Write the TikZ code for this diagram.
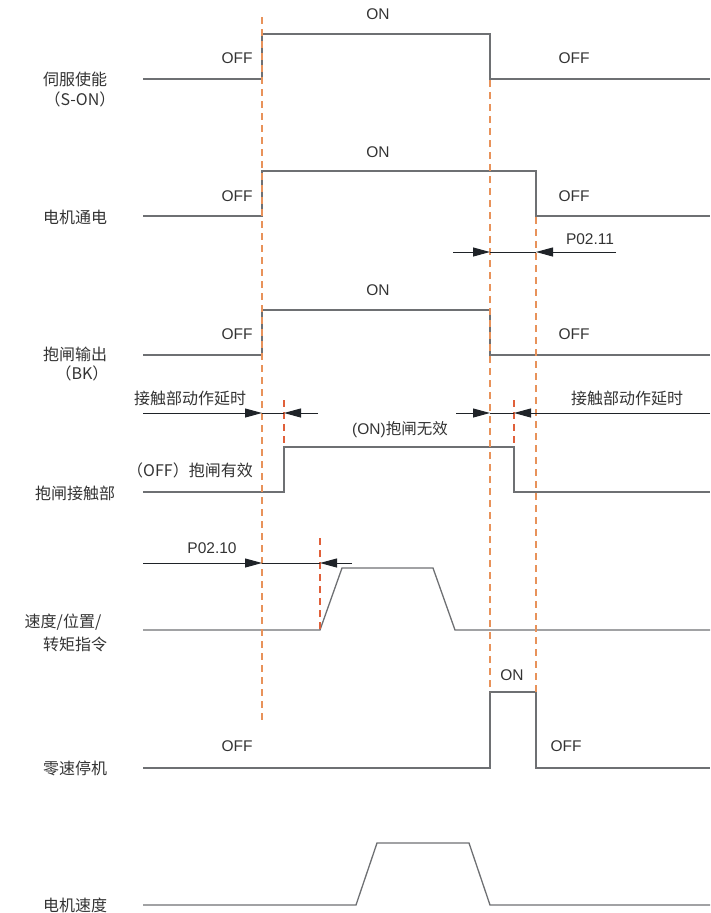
\documentclass[tikz,border=0pt]{standalone}
\usepackage{fontspec}
\setmainfont{Liberation Sans}
\newfontfamily\cjk{Noto Sans CJK SC}
\usetikzlibrary{arrows.meta}
\definecolor{sigc}{HTML}{6E7073}
\definecolor{dashc}{HTML}{E8925A}
\definecolor{redc}{HTML}{E0603A}
\definecolor{txtc}{HTML}{333333}
\definecolor{arrc}{HTML}{1F2328}
\begin{document}
\begin{tikzpicture}[x=1pt,y=-1pt,
  sig/.style={draw=sigc, line width=1.3pt},
  vdash/.style={draw=dashc, line width=1.3pt, dash pattern=on 7pt off 5pt},
  rdash/.style={draw=redc, line width=1.3pt, dash pattern=on 7pt off 5pt},
  arr/.style={draw=arrc, line width=1pt, -{Triangle[length=17pt,width=9pt]}},
  arrline/.style={draw=arrc, line width=1pt},
  lat/.style={text=txtc, font=\fontsize{15.5}{18}\selectfont, inner sep=0pt},
  cj/.style={text=txtc, font=\cjk\fontsize{16}{19}\selectfont, inner sep=0pt}]
\useasboundingbox (0,0) rectangle (710,913);
% row 1
\draw[sig] (143,79) -- (262,79) -- (262,34) -- (490,34) -- (490,79) -- (710,79);
\node[lat] (r1off) at (237,58) {OFF};
\node[lat] (r1on) at (378,14) {ON};
\node[lat] (r1off2) at (574,58) {OFF};
\node[cj] (r1lab) at (75,79) {伺服使能};
\node[cj] (r1sub) at (80,99) {（S-ON）};
% row 2
\draw[sig] (143,216) -- (262,216) -- (262,171) -- (536,171) -- (536,216) -- (710,216);
\node[lat] (r2off) at (237,196) {OFF};
\node[lat] (r2on) at (378,152) {ON};
\node[lat] (r2off2) at (574,196) {OFF};
\node[cj] (r2lab) at (75,217) {电机通电};
% row 3
\draw[sig] (143,355) -- (262,355) -- (262,310) -- (490,310) -- (490,355) -- (710,355);
\node[lat] (r3off) at (237,334) {OFF};
\node[lat] (r3on) at (378,290) {ON};
\node[lat] (r3off2) at (574,334) {OFF};
\node[cj] (r3lab) at (75,354) {抱闸输出};
\node[cj] (r3sub) at (82,373) {（BK）};
% row 4
\draw[sig] (143,492) -- (284,492) -- (284,447) -- (514,447) -- (514,492) -- (710,492);
\node[lat] (r4on) at (400,430) {(ON)\cjk 抱闸无效};
\node[cj] (r4off) at (190,470) {（OFF）抱闸有效};
\node[cj] (r4lab) at (75,493) {抱闸接触部};
% row 5
\draw[sig] (143,630) -- (320,630) -- (342,568) -- (433,568) -- (455,630) -- (710,630);
\node[cj] (r5lab) at (63,622) {速度/位置/};
\node[cj] (r5sub) at (75,644) {转矩指令};
% row 6
\draw[sig] (143,768) -- (490,768) -- (490,692) -- (536,692) -- (536,768) -- (710,768);
\node[lat] (r6on) at (512,675) {ON};
\node[lat] (r6off) at (237,746) {OFF};
\node[lat] (r6off2) at (566,746) {OFF};
\node[cj] (r6lab) at (75,768) {零速停机};
% row 7
\draw[sig] (143,905) -- (356,905) -- (377,843) -- (469,843) -- (490,905) -- (710,905);
\node[cj] (r7lab) at (75,905) {电机速度};
% dashed guides
\draw[vdash] (262,17) -- (262,722);
\draw[vdash] (490,80) -- (490,692);
\draw[vdash] (536,217) -- (536,692);
\draw[rdash] (284,400) -- (284,447);
\draw[rdash] (514,400) -- (514,447);
\draw[rdash] (320,538) -- (320,630);
% P02.11
\coordinate (p11a) at (453,252);
\coordinate (p11b) at (490,252);
\coordinate (p11c) at (536,252);
\coordinate (p11d) at (616,252);
\draw[arr] (p11a) -- (p11b);
\draw[arrline] (p11b) -- (p11c);
\draw[arr] (p11d) -- (p11c);
\node[lat] (p11) at (590,239) {P02.11};
% contact delay arrows
\coordinate (cda) at (143,413);
\coordinate (cdb) at (262,413);
\coordinate (cdc) at (284,413);
\coordinate (cdd) at (318,413);
\draw[arr] (cda) -- (cdb);
\draw[arrline] (cdb) -- (cdc);
\draw[arr] (cdd) -- (cdc);
\node[cj] (cdl) at (190,398) {接触部动作延时};
\coordinate (cea) at (456,413);
\coordinate (ceb) at (490,413);
\coordinate (cec) at (514,413);
\coordinate (ced) at (710,413);
\draw[arr] (cea) -- (ceb);
\draw[arrline] (ceb) -- (cec);
\draw[arr] (ced) -- (cec);
\node[cj] (cer) at (627,398) {接触部动作延时};
% P02.10
\coordinate (p10a) at (143,563);
\coordinate (p10b) at (262,563);
\coordinate (p10c) at (320,563);
\coordinate (p10d) at (352,563);
\draw[arr] (p10a) -- (p10b);
\draw[arrline] (p10b) -- (p10c);
\draw[arr] (p10d) -- (p10c);
\node[lat] (p10) at (212,548) {P02.10};
\end{tikzpicture}
\end{document}
